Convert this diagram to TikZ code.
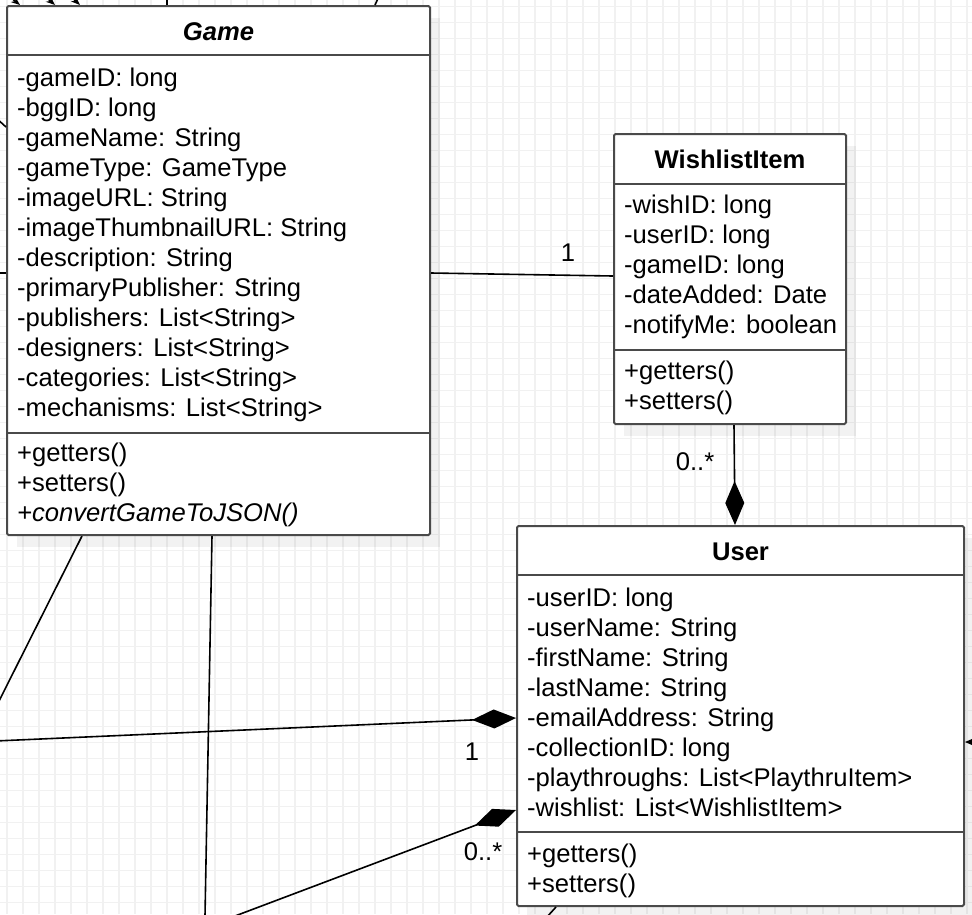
\documentclass[tikz,border=0pt]{standalone}
\usepackage{fontspec}
\setmainfont{Liberation Sans}
\usetikzlibrary{arrows.meta,calc}
\definecolor{gridc}{HTML}{F1F1F1}
\definecolor{boxc}{HTML}{4A4A4A}
\begin{document}
\begin{tikzpicture}[x=1pt,y=-1pt,
  font=\fontsize{25.6}{30}\selectfont,
  classbox/.style={draw=boxc, line width=2pt, fill=white, rectangle, inner sep=0pt, rounded corners=1.5pt},
  shadowbox/.style={fill=black, opacity=0.05},
  sepline/.style={draw=boxc, line width=2pt},
  txt/.style={anchor=base west, inner sep=0pt},
  ttl/.style={anchor=base, inner sep=0pt, font=\fontsize{25.6}{30}\selectfont\bfseries},
  conn/.style={draw=black, line width=1.6pt},
  comp/.style={conn, -{Diamond[length=44pt,width=19pt]}},
  tipline/.style={conn, -{Stealth[length=9pt,width=7pt]}},
  mult/.style={inner sep=0pt, anchor=center}]
\useasboundingbox (0,0) rectangle (972,914);
\fill[white] (0,0) rectangle (972,914);
% grid
\foreach \i in {0,...,60} \draw[gridc, line width=1.1pt] (7+16*\i,0) -- (7+16*\i,914);
\foreach \j in {0,...,56} \draw[gridc, line width=1.1pt] (0,6.7+16*\j) -- (972,6.7+16*\j);

% shadows
\fill[shadowbox] (17,18) rectangle (440,547);
\fill[shadowbox] (624,146) rectangle (856,436);
\fill[shadowbox] (527,538) rectangle (974,918);

% off-canvas ends
\coordinate (l3) at (-5,741);
\coordinate (l4) at (235,916);
\coordinate (l5) at (-3,705);
\coordinate (l6) at (205,916);
\coordinate (l7) at (546,918);
\coordinate (r8) at (1010,742);
\coordinate (l9) at (-6,116);
\coordinate (l10) at (-5,273);
\coordinate (t1) at (4,-8);
\coordinate (t2) at (40,-8);
\coordinate (t3) at (66,-8);
\coordinate (t4) at (167,-8);
\coordinate (t5) at (381,-8);

% connectors behind boxes
\draw[conn] (l5) -- (82,536);
\draw[conn] (l6) -- (212,536);

% Game class
\node[classbox, minimum width=423pt, minimum height=529pt] (game) at (218.5,270.5) {};
\draw[sepline] (game.west |- 0,55) -- (game.east |- 0,55);
\draw[sepline] (game.west |- 0,433) -- (game.east |- 0,433);
\node[ttl, font=\fontsize{25.6}{30}\selectfont\bfseries\itshape] (gameT) at (218.5,40) {Game};
\node[txt] (g1) at (17,86) {-gameID: long};
\node[txt] (g2) at (17,116) {-bggID: long};
\node[txt] (g3) at (17,146) {-gameName: String};
\node[txt] (g4) at (17,176) {-gameType: GameType};
\node[txt] (g5) at (17,206) {-imageURL: String};
\node[txt] (g6) at (17,236) {-imageThumbnailURL: String};
\node[txt] (g7) at (17,266) {-description: String};
\node[txt] (g8) at (17,296) {-primaryPublisher: String};
\node[txt] (g9) at (17,326) {-publishers: List<String>};
\node[txt] (g10) at (17,356) {-designers: List<String>};
\node[txt] (g11) at (17,386) {-categories: List<String>};
\node[txt] (g12) at (17,416) {-mechanisms: List<String>};
\node[txt] (g13) at (17,461) {+getters()};
\node[txt] (g14) at (17,491) {+setters()};
\node[txt] (g15) at (17,521) {\itshape +convertGameToJSON()};

% WishlistItem class
\node[classbox, minimum width=232pt, minimum height=290pt] (wish) at (730,279) {};
\draw[sepline] (wish.west |- 0,184) -- (wish.east |- 0,184);
\draw[sepline] (wish.west |- 0,350) -- (wish.east |- 0,350);
\node[ttl] (wishT) at (730,168) {WishlistItem};
\node[txt] (w1) at (624,213) {-wishID: long};
\node[txt] (w2) at (624,243) {-userID: long};
\node[txt] (w3) at (624,273) {-gameID: long};
\node[txt] (w4) at (624,303) {-dateAdded: Date};
\node[txt] (w5) at (624,333) {-notifyMe: boolean};
\node[txt] (w6) at (624,379) {+getters()};
\node[txt] (w7) at (624,409) {+setters()};

% User class
\node[classbox, minimum width=447pt, minimum height=380pt] (user) at (740.5,716) {};
\draw[sepline] (user.west |- 0,575) -- (user.east |- 0,575);
\draw[sepline] (user.west |- 0,832) -- (user.east |- 0,832);
\node[ttl] (userT) at (740.5,560) {User};
\node[txt] (u1) at (527,606) {-userID: long};
\node[txt] (u2) at (527,636) {-userName: String};
\node[txt] (u3) at (527,666) {-firstName: String};
\node[txt] (u4) at (527,696) {-lastName: String};
\node[txt] (u5) at (527,726) {-emailAddress: String};
\node[txt] (u6) at (527,756) {-collectionID: long};
\node[txt] (u7) at (527,786) {-playthroughs: List<PlaythruItem>};
\node[txt] (u8) at (527,816) {-wishlist: List<WishlistItem>};
\node[txt] (u9) at (527,862) {+getters()};
\node[txt] (u10) at (527,892) {+setters()};

% connectors
\draw[conn] (game.east |- 0,273) -- (wish.west |- 0,276);
\draw[comp] (wish.south -| 734,0) -- (user.north -| 735,0);
\draw[comp] (l3) -- (user.west |- 0,718);
\draw[comp] (l4) -- (user.west |- 0,810);
\draw[conn] (user.south -| 556,0) -- (l7);
\draw[comp] (r8) -- (user.east |- 0,742);
\draw[conn] (l9) -- (game.west |- 0,127);
\draw[conn] (l10) -- (game.west |- 0,273);
\draw[tipline] (t1) -- (game.north -| 20,0);
\draw[tipline] (t2) -- (game.north -| 55,0);
\draw[tipline] (t3) -- (game.north -| 80,0);
\draw[conn] (t4) -- (game.north -| 167,0);
\draw[conn] (t5) -- (game.north -| 375,0);

% multiplicities
\node[mult] (m1) at (568,253) {1};
\node[mult] (m2) at (695,462) {0..*};
\node[mult] (m3) at (472,752) {1};
\node[mult] (m4) at (483,852) {0..*};
\end{tikzpicture}
\end{document}
